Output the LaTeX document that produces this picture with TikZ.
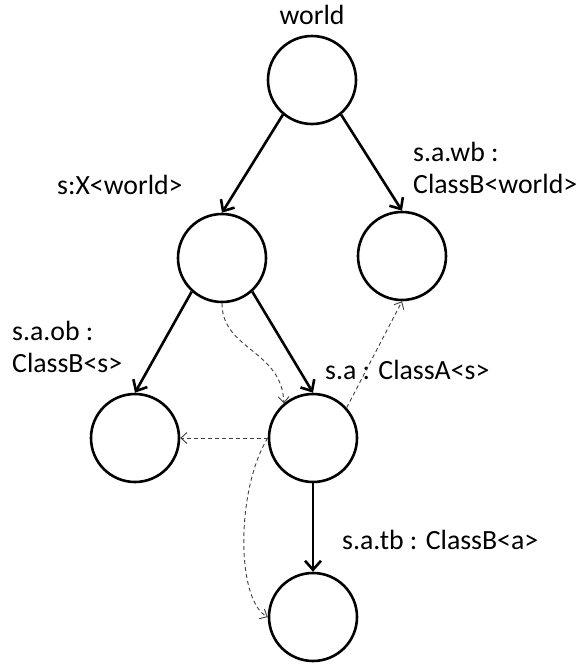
\documentclass[tikz,border=0pt]{standalone}
\usepackage{fontspec}
\setmainfont{Carlito}
\usetikzlibrary{arrows.meta}
\begin{document}
\begin{tikzpicture}[x=1pt,y=-1pt,
  obj/.style={circle,draw,line width=2.6pt,minimum size=88pt,inner sep=0pt},
  own/.style={line width=2.6pt,-{Straight Barb[length=9pt,width=16pt,line width=2.6pt]}},
  ref/.style={draw=black!75,line width=0.9pt,dash pattern=on 4pt off 3pt,-{Straight Barb[length=6pt,width=11pt,line width=0.9pt]}},
  lbl/.style={font=\fontsize{27.8}{32.5}\selectfont,inner sep=0pt,align=left}]
\useasboundingbox (0,0) rectangle (582,664);
\node[obj] (world) at (312,80) {};
\node[obj] (sx) at (222,258) {};
\node[obj] (wb) at (402,256) {};
\node[obj] (ob) at (135,438) {};
\node[obj] (sa) at (313,438) {};
\node[obj] (tb) at (313,617) {};
\node[lbl] (tworld) at (312,15) {world};
\node[lbl,anchor=west] (tsx) at (57,185) {s:X<world>};
\node[lbl,anchor=west] (twb) at (413,168) {s.a.wb :\\ClassB<world>};
\node[lbl,anchor=west] (tob) at (12,347) {s.a.ob :\\ClassB<s>};
\node[lbl,anchor=west] (tsa) at (325,370) {s.a : ClassA<s>};
\node[lbl,anchor=west] (ttb) at (342,540) {s.a.tb : ClassB<a>};
\draw[own] (world.230) -- (sx.north);
\draw[own] (world.-50) -- (wb.north);
\draw[own] (sx.228) -- (ob.north);
\draw[own] (sx.-48) -- (sa.north);
\draw[own] (sa.south) -- (tb.north);
\draw[ref] (sx.south) .. controls (222,350) and (282,350) .. (sa.130);
\draw[ref] (sa.42) -- (wb.south);
\draw[ref] (sa.west) -- (ob.east);
\draw[ref] (sa.west) .. controls (236,490) and (236,600) .. (tb.west);
\end{tikzpicture}
\end{document}
